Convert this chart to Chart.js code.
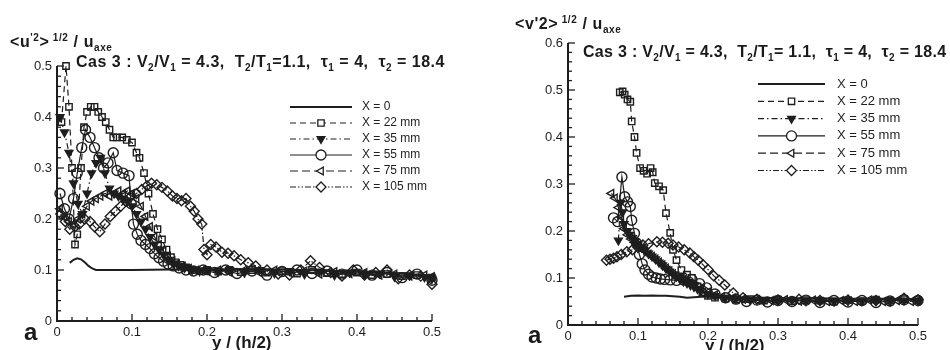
<!DOCTYPE html>
<html>
<head>
<meta charset="utf-8">
<script src="https://cdn.jsdelivr.net/npm/chart.js@4.4.1/dist/chart.umd.min.js"></script>
<style>
  body { margin: 0; background: #fff; font-family: "Liberation Sans", Arial, sans-serif; color: #1a1a1a; }
  #page { position: relative; width: 950px; height: 350px; overflow: hidden; }
  canvas { position: absolute; top: 0; }
  .txt { position: absolute; white-space: pre; font-weight: bold; line-height: 1; }
  .txt sup, .txt sub { font-size: 10px; line-height: 0; }
  .txt sup { vertical-align: 6px; }
  .txt sub { vertical-align: -4px; }
</style>
</head>
<body>
<div id="page">
  <canvas id="chartU" width="475" height="350" style="left:0"></canvas>
  <canvas id="chartV" width="475" height="350" style="left:475px"></canvas>

  <div class="txt" style="left:10px; top:34px; font-size:16px; letter-spacing:0.6px;">&lt;u<sup>'2</sup>&gt;<sup> 1/2</sup> / u<sub>axe</sub></div>
  <div class="txt" style="left:76px; top:54px; font-size:16px; letter-spacing:0.5px;">Cas 3 : V<sub>2</sub>/V<sub>1</sub> = 4.3,  T<sub>2</sub>/T<sub>1</sub>=1.1,  τ<sub>1</sub> = 4,  τ<sub>2</sub> = 18.4</div>
  <div class="txt" style="left:212px; top:334px; font-size:17px;">y / (h/2)</div>
  <div class="txt" style="left:24px; top:320px; font-size:24px;">a</div>

  <div class="txt" style="left:515px; top:16px; font-size:16px; letter-spacing:0.6px;">&lt;v'2&gt;<sup> 1/2</sup> / u<sub>axe</sub></div>
  <div class="txt" style="left:583px; top:44px; font-size:16px; letter-spacing:0.3px;">Cas 3 : V<sub>2</sub>/V<sub>1</sub> = 4.3,  T<sub>2</sub>/T<sub>1</sub>= 1.1,  τ<sub>1</sub> = 4,  τ<sub>2</sub> = 18.4</div>
  <div class="txt" style="left:705px; top:337px; font-size:17px;">y / (h/2)</div>
  <div class="txt" style="left:528px; top:323px; font-size:24px;">a</div>
</div>

<script>
// Légende commune aux deux graphiques
const seriesLabels = ["X = 0", "X = 22 mm", "X = 35 mm", "X = 55 mm", "X = 75 mm", "X = 105 mm"];

// Graphique de gauche : <u'2>^1/2 / u_axe, points [y/(h/2), valeur]
const u0 = [[0.017,0.114],[0.022,0.12],[0.027,0.123],[0.032,0.121],[0.037,0.115],[0.042,0.108],[0.047,0.103],
  [0.052,0.100],[0.06,0.100],[0.08,0.100],[0.1,0.100],[0.15,0.101],[0.2,0.101],[0.25,0.102],[0.3,0.101],
  [0.35,0.099],[0.4,0.097],[0.45,0.094],[0.5,0.088]];
const u22 = [[0.006,0.39],[0.012,0.50],[0.016,0.42],[0.02,0.30],[0.024,0.15],[0.027,0.17],[0.032,0.30],[0.036,0.38],
  [0.04,0.41],[0.045,0.42],[0.05,0.42],[0.055,0.41],[0.06,0.40],[0.065,0.39],[0.07,0.375],[0.075,0.36],[0.08,0.36],
  [0.087,0.36],[0.093,0.355],[0.1,0.35],[0.106,0.33],[0.11,0.32],[0.116,0.29],[0.122,0.25],[0.128,0.21],[0.134,0.18],
  [0.14,0.16],[0.146,0.14],[0.152,0.125],[0.158,0.115],[0.165,0.11],[0.172,0.105],[0.18,0.1],[0.19,0.098],[0.2,0.1],
  [0.215,0.097],[0.23,0.1],[0.245,0.096],[0.26,0.1],[0.28,0.095],[0.3,0.098],[0.32,0.093],[0.34,0.1],[0.36,0.094],
  [0.38,0.092],[0.4,0.095],[0.42,0.09],[0.44,0.092],[0.46,0.088],[0.48,0.09],[0.5,0.085]];
const u35 = [[0.004,0.40],[0.01,0.37],[0.016,0.33],[0.022,0.27],[0.028,0.23],[0.034,0.21],[0.04,0.25],[0.046,0.29],
  [0.052,0.31],[0.058,0.32],[0.064,0.29],[0.07,0.26],[0.076,0.25],[0.082,0.245],[0.088,0.24],[0.094,0.235],[0.1,0.225],
  [0.106,0.21],[0.112,0.195],[0.118,0.18],[0.124,0.165],[0.13,0.15],[0.136,0.14],[0.142,0.13],[0.148,0.12],[0.155,0.113],
  [0.162,0.108],[0.17,0.104],[0.18,0.1],[0.19,0.098],[0.2,0.1],[0.215,0.097],[0.23,0.1],[0.25,0.095],[0.27,0.1],
  [0.29,0.094],[0.31,0.098],[0.33,0.092],[0.35,0.097],[0.37,0.09],[0.39,0.095],[0.41,0.09],[0.43,0.093],[0.45,0.087],
  [0.47,0.09],[0.49,0.086],[0.5,0.083]];
const u55 = [[0.004,0.25],[0.01,0.22],[0.016,0.2],[0.022,0.24],[0.027,0.29],[0.033,0.34],[0.038,0.375],[0.044,0.36],
  [0.05,0.34],[0.056,0.32],[0.062,0.3],[0.068,0.31],[0.075,0.33],[0.08,0.295],[0.088,0.29],[0.096,0.285],[0.099,0.23],
  [0.102,0.19],[0.107,0.17],[0.112,0.158],[0.118,0.15],[0.124,0.142],[0.13,0.132],[0.136,0.124],[0.142,0.117],
  [0.148,0.112],[0.155,0.108],[0.163,0.104],[0.172,0.1],[0.182,0.098],[0.195,0.1],[0.21,0.095],[0.225,0.1],[0.24,0.093],
  [0.26,0.098],[0.28,0.09],[0.3,0.097],[0.32,0.1],[0.34,0.093],[0.36,0.098],[0.38,0.092],[0.4,0.1],[0.42,0.09],
  [0.44,0.095],[0.46,0.085],[0.48,0.092],[0.5,0.08]];
const u75 = [[0.004,0.22],[0.01,0.205],[0.016,0.195],[0.022,0.19],[0.028,0.2],[0.034,0.21],[0.04,0.225],[0.046,0.235],
  [0.052,0.24],[0.058,0.245],[0.064,0.25],[0.07,0.245],[0.076,0.25],[0.082,0.255],[0.088,0.25],[0.094,0.255],[0.1,0.25],
  [0.106,0.24],[0.112,0.225],[0.118,0.205],[0.124,0.185],[0.13,0.165],[0.136,0.15],[0.142,0.137],[0.148,0.127],
  [0.154,0.118],[0.16,0.112],[0.168,0.107],[0.176,0.103],[0.186,0.1],[0.2,0.098],[0.215,0.1],[0.23,0.096],[0.25,0.1],
  [0.27,0.095],[0.29,0.1],[0.31,0.095],[0.33,0.098],[0.35,0.092],[0.37,0.097],[0.39,0.093],[0.41,0.095],[0.43,0.09],
  [0.45,0.092],[0.47,0.088],[0.49,0.09],[0.5,0.087]];
const u105 = [[0.005,0.21],[0.011,0.195],[0.017,0.18],[0.024,0.185],[0.03,0.19],[0.037,0.2],[0.044,0.195],[0.05,0.185],
  [0.057,0.175],[0.064,0.19],[0.071,0.205],[0.078,0.215],[0.085,0.225],[0.092,0.235],[0.099,0.245],[0.106,0.25],
  [0.113,0.258],[0.12,0.265],[0.126,0.27],[0.133,0.267],[0.14,0.262],[0.147,0.255],[0.154,0.245],[0.16,0.24],
  [0.166,0.236],[0.172,0.24],[0.178,0.225],[0.183,0.215],[0.188,0.2],[0.193,0.19],[0.196,0.14],[0.2,0.13],[0.205,0.15],
  [0.212,0.145],[0.22,0.135],[0.228,0.133],[0.236,0.128],[0.245,0.12],[0.255,0.114],[0.265,0.108],[0.28,0.1],
  [0.295,0.092],[0.31,0.09],[0.325,0.1],[0.338,0.118],[0.35,0.105],[0.365,0.095],[0.38,0.088],[0.395,0.1],[0.41,0.09],
  [0.425,0.095],[0.44,0.1],[0.455,0.083],[0.47,0.09],[0.485,0.088],[0.5,0.072]];

// Graphique de droite : <v'2>^1/2 / u_axe
const v0 = [[0.08,0.06],[0.09,0.062],[0.1,0.063],[0.11,0.062],[0.12,0.063],[0.13,0.062],[0.14,0.062],[0.15,0.061],
  [0.16,0.06],[0.17,0.058],[0.18,0.059],[0.19,0.06],[0.2,0.06],[0.22,0.059],[0.25,0.058],[0.3,0.057],[0.35,0.057],
  [0.4,0.056],[0.45,0.056],[0.5,0.055]];
const v22 = [[0.074,0.495],[0.078,0.497],[0.081,0.49],[0.085,0.48],[0.089,0.475],[0.091,0.433],[0.095,0.4],[0.098,0.366],
  [0.103,0.334],[0.108,0.328],[0.113,0.322],[0.118,0.334],[0.121,0.325],[0.124,0.302],[0.13,0.295],[0.136,0.287],
  [0.14,0.238],[0.146,0.196],[0.15,0.16],[0.155,0.138],[0.162,0.117],[0.17,0.107],[0.177,0.1],[0.185,0.082],[0.192,0.07],
  [0.2,0.062],[0.21,0.058],[0.225,0.056],[0.24,0.054],[0.26,0.055],[0.28,0.052],[0.3,0.054],[0.32,0.051],[0.34,0.053],
  [0.36,0.052],[0.38,0.05],[0.4,0.053],[0.42,0.051],[0.44,0.054],[0.46,0.052],[0.48,0.055],[0.5,0.053]];
const v35 = [[0.072,0.18],[0.075,0.26],[0.078,0.24],[0.08,0.215],[0.084,0.2],[0.088,0.192],[0.092,0.185],[0.096,0.178],
  [0.1,0.172],[0.105,0.165],[0.11,0.158],[0.115,0.152],[0.12,0.146],[0.125,0.14],[0.13,0.133],[0.135,0.127],[0.14,0.12],
  [0.145,0.114],[0.15,0.108],[0.155,0.103],[0.16,0.098],[0.165,0.093],[0.17,0.089],[0.175,0.085],[0.18,0.081],
  [0.185,0.077],[0.19,0.073],[0.2,0.066],[0.21,0.062],[0.225,0.058],[0.24,0.056],[0.26,0.054],[0.28,0.053],[0.3,0.052],
  [0.32,0.053],[0.34,0.051],[0.36,0.052],[0.38,0.05],[0.4,0.052],[0.42,0.051],[0.44,0.052],[0.46,0.05],[0.48,0.052],
  [0.5,0.051]];
const v55 = [[0.065,0.228],[0.071,0.22],[0.077,0.315],[0.081,0.273],[0.085,0.262],[0.089,0.252],[0.091,0.223],
  [0.095,0.195],[0.098,0.174],[0.102,0.15],[0.106,0.13],[0.11,0.117],[0.115,0.108],[0.12,0.102],[0.126,0.1],[0.132,0.098],
  [0.138,0.097],[0.146,0.096],[0.155,0.095],[0.165,0.096],[0.177,0.097],[0.188,0.088],[0.198,0.079],[0.21,0.066],
  [0.225,0.058],[0.24,0.055],[0.255,0.05],[0.27,0.053],[0.285,0.049],[0.3,0.052],[0.32,0.05],[0.34,0.053],[0.36,0.048],
  [0.38,0.052],[0.4,0.049],[0.42,0.052],[0.44,0.048],[0.46,0.051],[0.48,0.054],[0.5,0.052]];
const v75 = [[0.062,0.28],[0.067,0.27],[0.072,0.25],[0.076,0.23],[0.08,0.205],[0.085,0.192],[0.09,0.183],[0.095,0.176],
  [0.1,0.17],[0.105,0.163],[0.11,0.157],[0.115,0.151],[0.12,0.146],[0.125,0.14],[0.13,0.134],[0.135,0.128],[0.14,0.121],
  [0.145,0.115],[0.15,0.109],[0.155,0.104],[0.16,0.099],[0.165,0.095],[0.17,0.091],[0.175,0.088],[0.18,0.084],
  [0.19,0.077],[0.2,0.07],[0.21,0.064],[0.22,0.06],[0.235,0.057],[0.25,0.055],[0.27,0.054],[0.29,0.052],[0.31,0.054],
  [0.33,0.051],[0.35,0.053],[0.37,0.05],[0.39,0.052],[0.41,0.05],[0.43,0.053],[0.45,0.05],[0.47,0.052],[0.49,0.05],
  [0.5,0.052]];
const v105 = [[0.055,0.138],[0.06,0.14],[0.065,0.142],[0.07,0.145],[0.076,0.15],[0.084,0.156],[0.092,0.16],[0.1,0.165],
  [0.107,0.17],[0.115,0.173],[0.127,0.177],[0.135,0.176],[0.143,0.174],[0.15,0.17],[0.158,0.166],[0.166,0.16],
  [0.174,0.153],[0.18,0.145],[0.186,0.138],[0.193,0.128],[0.2,0.118],[0.208,0.105],[0.216,0.095],[0.224,0.085],
  [0.236,0.068],[0.25,0.058],[0.27,0.055],[0.3,0.053],[0.33,0.055],[0.36,0.052],[0.4,0.053],[0.44,0.052],[0.48,0.057],
  [0.5,0.054]];

const INK = "#1e1e1e";

// Styles des séries : trait, pointillés, marqueur
const seriesStyles = [
  { dash: [], pointStyle: false, radius: 0, rotation: 0, fill: "rgba(0,0,0,0)", width: 2 },
  { dash: [6, 4], pointStyle: "rect", radius: 4.5, rotation: 0, fill: "rgba(255,255,255,0)", width: 1.2 },
  { dash: [6, 3, 1.5, 3], pointStyle: "triangle", radius: 4.5, rotation: 180, fill: INK, width: 1.2 },
  { dash: [], pointStyle: "circle", radius: 5, rotation: 0, fill: "rgba(255,255,255,0)", width: 1.2 },
  { dash: [8, 4], pointStyle: "triangle", radius: 4.5, rotation: -90, fill: "rgba(255,255,255,0)", width: 1.2 },
  { dash: [6, 2, 1.5, 2, 1.5, 2], pointStyle: "rectRot", radius: 5, rotation: 0, fill: "rgba(255,255,255,0)", width: 1.2 }
];

function buildDatasets(seriesList) {
  return seriesList.map((points, i) => {
    const s = seriesStyles[i];
    return {
      label: seriesLabels[i],
      data: points.map(([x, y]) => ({ x, y })),
      showLine: true,
      borderColor: INK,
      borderWidth: s.width,
      borderDash: s.dash,
      pointStyle: s.pointStyle,
      pointRadius: s.radius,
      pointRotation: s.rotation,
      pointBorderColor: INK,
      pointBorderWidth: 1.4,
      pointBackgroundColor: s.fill,
      clip: false
    };
  });
}

// Axes tracés à la main : graduations vers l'intérieur, majeures tous les 0.1
const axesPlugin = {
  id: "axesPlugin",
  afterDraw(chart) {
    const { ctx, chartArea: a, scales: { x, y } } = chart;
    ctx.save();
    ctx.strokeStyle = INK;
    ctx.lineWidth = 2;
    ctx.setLineDash([]);
    ctx.beginPath();
    ctx.moveTo(a.left, a.top);
    ctx.lineTo(a.left, a.bottom);
    ctx.lineTo(a.right, a.bottom);
    ctx.stroke();
    ctx.lineWidth = 1.3;
    for (let k = 0; k <= Math.round(x.max / 0.02); k++) {
      const px = x.getPixelForValue(k * 0.02);
      const len = k % 5 === 0 ? 7 : 4;
      ctx.beginPath();
      ctx.moveTo(px, a.bottom);
      ctx.lineTo(px, a.bottom - len);
      ctx.stroke();
    }
    for (let k = 0; k <= Math.round(y.max / 0.02); k++) {
      const py = y.getPixelForValue(k * 0.02);
      const len = k % 5 === 0 ? 7 : 4;
      ctx.beginPath();
      ctx.moveTo(a.left, py);
      ctx.lineTo(a.left + len, py);
      ctx.stroke();
    }
    ctx.restore();
  }
};

// Légende dessinée avec les styles des jeux de données
function legendPlugin(cfg) {
  return {
    id: "legendPlugin",
    afterDraw(chart) {
      const { ctx } = chart;
      ctx.save();
      chart.data.datasets.forEach((ds, i) => {
        const yy = cfg.top + i * cfg.step;
        ctx.strokeStyle = INK;
        ctx.lineWidth = ds.borderWidth;
        ctx.setLineDash(ds.borderDash);
        ctx.beginPath();
        ctx.moveTo(cfg.x1, yy);
        ctx.lineTo(cfg.x2, yy);
        ctx.stroke();
        ctx.setLineDash([]);
        if (ds.pointStyle) {
          ctx.fillStyle = ds.pointBackgroundColor === INK ? INK : "#fff";
          ctx.strokeStyle = INK;
          ctx.lineWidth = 1.3;
          Chart.helpers.drawPoint(ctx, {
            pointStyle: ds.pointStyle, radius: ds.pointRadius,
            rotation: ds.pointRotation, borderWidth: 1.3
          }, (cfg.x1 + cfg.x2) / 2, yy);
        }
        ctx.fillStyle = INK;
        ctx.font = cfg.font;
        ctx.textBaseline = "middle";
        ctx.fillText(ds.label, cfg.textX, yy);
      });
      ctx.restore();
    }
  };
}

function makeChart(id, seriesList, yMax, box, legendCfg) {
  const fmt = v => (Math.abs(v) < 1e-9 ? "0" : v.toFixed(1));
  const tickFont = { family: "Liberation Sans", size: 13 };
  return new Chart(document.getElementById(id), {
    type: "scatter",
    data: { datasets: buildDatasets(seriesList) },
    options: {
      responsive: false,
      animation: false,
      layout: { padding: { left: 0, top: box.top, right: box.right, bottom: 0 } },
      plugins: { legend: { display: false }, tooltip: { enabled: false } },
      scales: {
        x: {
          type: "linear", min: 0, max: 0.5,
          grid: { display: false, drawTicks: false },
          border: { display: false },
          ticks: { stepSize: 0.1, padding: 4, color: INK, font: tickFont, callback: fmt },
          afterFit: s => { s.height = box.bottom; }
        },
        y: {
          type: "linear", min: 0, max: yMax,
          grid: { display: false, drawTicks: false },
          border: { display: false },
          ticks: { stepSize: 0.1, padding: 5, color: INK, font: tickFont, callback: fmt },
          afterFit: s => { s.width = box.left; }
        }
      }
    },
    plugins: [axesPlugin, legendPlugin(legendCfg)]
  });
}

makeChart("chartU", [u0, u22, u35, u55, u75, u105], 0.5,
  { left: 57, top: 66, right: 43, bottom: 29 },
  { top: 107, step: 16, x1: 290, x2: 352, textX: 362, font: "12px 'Liberation Sans'" });

makeChart("chartV", [v0, v22, v35, v55, v75, v105], 0.6,
  { left: 93, top: 43, right: 32, bottom: 25 },
  { top: 84, step: 17.3, x1: 283, x2: 350, textX: 362, font: "13px 'Liberation Sans'" });
</script>
</body>
</html>
